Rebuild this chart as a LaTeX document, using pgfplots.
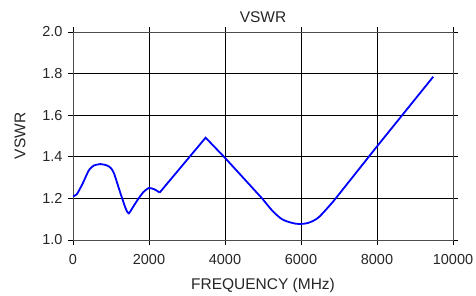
\documentclass[border=0pt]{standalone}
\usepackage{pgfplots}
\pgfplotsset{compat=1.18}
\usepackage{fontspec}
\setmainfont{Liberation Sans}
\begin{document}
\begin{tikzpicture}
\begin{axis}[
  at={(0,0)}, anchor=south west,
  scale only axis, width=380pt, height=208pt,
  xmin=0, xmax=10000, ymin=1.0, ymax=2.0,
  xtick={0,2000,...,10000}, ytick={1.0,1.2,...,2.0},
  yticklabel style={/pgf/number format/fixed,/pgf/number format/fixed zerofill,/pgf/number format/precision=1, xshift=-2pt},
  xticklabel style={/pgf/number format/1000 sep={}, yshift=-6pt},
  /pgf/number format/assume math mode=true,
  scaled x ticks=false,
  grid=major, major grid style={black, line width=0.8pt},
  axis line style={black!70, line width=0.8pt},
  tick style={black, line width=0.8pt},
  tick align=outside, major tick length=5pt,
  ticklabel style={font=\fontsize{14.5}{16}\selectfont, text=black!85},
  label style={font=\fontsize{15.5}{18}\selectfont, text=black!85},
  title style={font=\fontsize{15.5}{18}\selectfont, text=black!85, at={(0.5,1)}, anchor=base, yshift=4pt},
  title={VSWR},
  xlabel={FREQUENCY (MHz)}, ylabel={VSWR},
  xlabel style={at={(0.5,0)}, anchor=base, yshift=-49pt},
  ylabel style={at={(0,0.5)}, anchor=center, yshift=53pt},
]
\addplot[blue, line width=1.8pt, smooth, tension=0.4] coordinates {
(0,1.21) (100,1.22) (250,1.27) (420,1.336) (550,1.358) (730,1.365) (900,1.358) (1000,1.345) (1080,1.32)
(1250,1.224) (1400,1.145) (1470,1.128) (1550,1.15) (1690,1.19) (1850,1.23) (2000,1.25)
(2150,1.243) (2280,1.228)
};
\addplot[blue, line width=1.8pt] coordinates {
(2280,1.228) (3490,1.492) (4000,1.395) (4500,1.295) (5000,1.195)
};
\addplot[blue, line width=1.8pt, smooth, tension=0.5] coordinates {
(5000,1.195) (5250,1.14) (5500,1.10) (5750,1.083) (5950,1.077) (6200,1.083) (6470,1.11) (6870,1.19)
};
\addplot[blue, line width=1.8pt] coordinates {
(6870,1.19) (8000,1.45) (9480,1.785)
};
\end{axis}
\pgfresetboundingbox
\path (-73pt,-55pt) rectangle (403pt,240pt);
\end{tikzpicture}
\end{document}
